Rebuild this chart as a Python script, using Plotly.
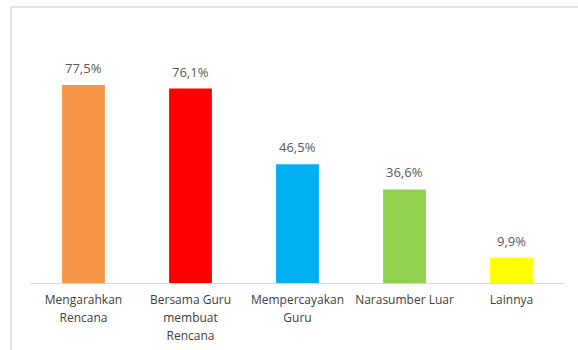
import plotly.graph_objects as go

# Categories and their percentages
categories = ["Mengarahkan Rencana", "Bersama Guru membuat Rencana",
              "Mempercayakan Guru", "Narasumber Luar", "Lainnya"]
tick_lines = [["Mengarahkan", "Rencana"], ["Bersama Guru", "membuat", "Rencana"],
              ["Mempercayakan", "Guru"], ["Narasumber Luar"], ["Lainnya"]]
values = [77.5, 76.1, 46.5, 36.6, 9.9]
value_labels = ["77,5%", "76,1%", "46,5%", "36,6%", "9,9%"]
colors = ["#F79646", "#FF0000", "#00B0F0", "#92D050", "#FFFF00"]

W, H = 578, 350
ml, mr, mt, mb = 30, 13, 53, 67

fig = go.Figure(go.Bar(
    x=categories, y=values, marker=dict(color=colors, line=dict(width=0)),
    width=0.4, hoverinfo="skip",
))

# Value labels placed just above each bar
for c, v, t in zip(categories, values, value_labels):
    fig.add_annotation(x=c, y=v, text=t, showarrow=False, yanchor="bottom",
                       yshift=6, font=dict(family="Open Sans", size=13, color="#595959"))

# Wrapped tick labels: lines drawn at 12px with a roomier line pitch
tick_text = ["<br>".join(f"<span style='font-size:12px'>{s}</span>" for s in lines)
             for lines in tick_lines]

pw, ph = W - ml - mr, H - mt - mb
# Outer chart border
fig.add_shape(type="rect", xref="paper", yref="paper",
              x0=(11 - ml) / pw, x1=(W + 5 - ml) / pw,
              y0=-(H + 5 - mt - ph) / ph, y1=(H - mb - 7) / ph,
              line=dict(color="#D9D9D9", width=1.5), fillcolor="rgba(0,0,0,0)", layer="below")

fig.update_layout(
    width=W, height=H, margin=dict(l=ml, r=mr, t=mt, b=mb, autoexpand=False),
    paper_bgcolor="white", plot_bgcolor="white", showlegend=False,
    bargap=0.6,
    xaxis=dict(showline=True, linecolor="#D9D9D9", linewidth=1, ticks="",
               tickmode="array", tickvals=categories, ticktext=tick_text,
               ticklabelstandoff=3, automargin=False,
               showgrid=False, tickfont=dict(family="Open Sans", size=14, color="#404040")),
    yaxis=dict(range=[0, 90], visible=False, showgrid=False, zeroline=False),
)

fig.write_html("out.html")
